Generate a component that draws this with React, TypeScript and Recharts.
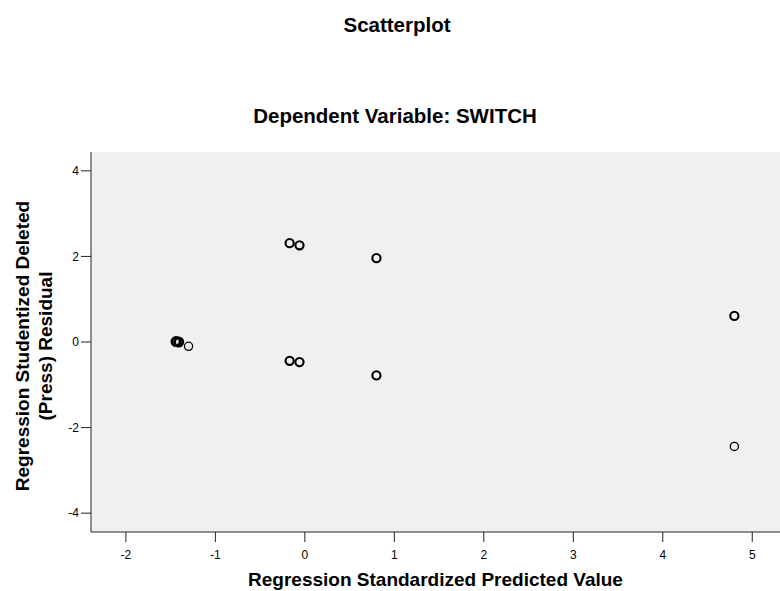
import { ScatterChart, Scatter, XAxis, YAxis, CartesianGrid } from "recharts";

// regression standardized predicted value (x) / studentized deleted residual (y)
const predicted = [-0.17, -0.06, 0.8, -1.44, -1.41, -1.3, -0.17, -0.06, 0.8, 4.8, 4.8];
const residual = [2.31, 2.26, 1.96, 0.01, 0.0, -0.1, -0.44, -0.47, -0.78, 0.61, -2.44];
// how many cases sit on top of each other at that spot
const overlap = [2, 2, 2, 3, 3, 1, 2, 2, 2, 2, 1];

const xTicks = [-2, -1, 0, 1, 2, 3, 4, 5];
const yTicks = [-4, -2, 0, 2, 4];

const data = predicted.map((x, i) => ({ x, y: residual[i], n: overlap[i] }));

const font = "'Liberation Sans', Arial, sans-serif";

const Ring = (props: any) => {
  const { cx, cy, payload } = props;
  const sw = payload.n > 2 ? 2.8 : payload.n > 1 ? 2.1 : 1.3;
  return <circle cx={cx} cy={cy} r={4.1} fill="none" stroke="#000" strokeWidth={sw} />;
};

export default function App() {
  return (
    <div style={{ position: "absolute", left: 0, top: 0, width: 780, height: 591, background: "#fff" }}>
      <ScatterChart width={780} height={591} margin={{ top: 152, right: 0, bottom: 0, left: 0 }}>
        <CartesianGrid fill="#f0f0f0" horizontal={false} vertical={false} stroke="none" />
        <XAxis
          type="number"
          dataKey="x"
          domain={[-2.39, 5.31]}
          ticks={xTicks}
          allowDataOverflow
          height={59}
          tickSize={10}
          tickMargin={8}
          axisLine={{ stroke: "#222" }}
          tickLine={{ stroke: "#222" }}
          tick={{ fill: "#000", fontSize: 12, fontFamily: font }}
        />
        <XAxis
          xAxisId="top"
          orientation="top"
          type="number"
          dataKey="x"
          domain={[-2.39, 5.31]}
          allowDataOverflow
          height={0}
          tick={false}
          tickLine={false}
          axisLine={{ stroke: "#555", strokeWidth: 1.6 }}
        />
        <YAxis
          type="number"
          dataKey="y"
          domain={[-4.44, 4.44]}
          ticks={yTicks}
          allowDataOverflow
          width={91}
          tickSize={10}
          tickMargin={2}
          axisLine={{ stroke: "#222" }}
          tickLine={{ stroke: "#222" }}
          tick={{ fill: "#000", fontSize: 12, fontFamily: font }}
        />
        <Scatter data={data} shape={Ring} isAnimationActive={false} />
      </ScatterChart>
      <svg
        width={780}
        height={591}
        style={{ position: "absolute", left: 0, top: 0, pointerEvents: "none" }}
        fontFamily={font}
        fontWeight="bold"
      >
        <text x={397} y={31.5} textAnchor="middle" fontSize={20.5} fill="#000">
          Scatterplot
        </text>
        <text x={395} y={123} textAnchor="middle" fontSize={20.5} fill="#000">
          Dependent Variable: SWITCH
        </text>
        <text x={435.5} y={586} textAnchor="middle" fontSize={19} fill="#000">
          Regression Standardized Predicted Value
        </text>
        <g transform="translate(0,346) rotate(-90)">
          <text x={0} y={29} textAnchor="middle" fontSize={19} fill="#000">
            Regression Studentized Deleted
          </text>
          <text x={0} y={51.5} textAnchor="middle" fontSize={19} fill="#000">
            (Press) Residual
          </text>
        </g>
      </svg>
    </div>
  );
}
